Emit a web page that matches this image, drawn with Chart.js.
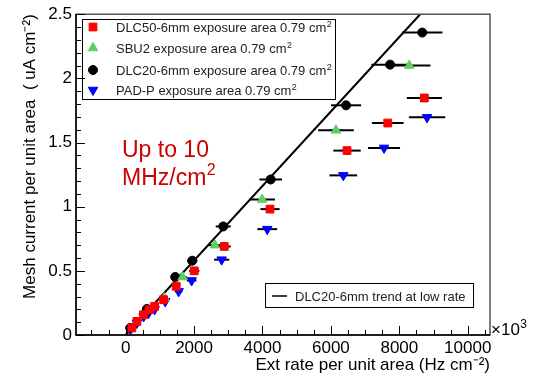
<!DOCTYPE html>
<html>
<head>
<meta charset="utf-8">
<script src="https://cdn.jsdelivr.net/npm/chart.js@4/dist/chart.umd.min.js"></script>
<style>
body { margin: 0; background: #fff; }
canvas { display: block; }
</style>
</head>
<body>
<canvas id="meshChart" width="534" height="376"></canvas>
<script>
// DLC50-6mm (red squares)
var dlc50X = [184, 330, 526, 690, 848, 1111, 1480, 2006, 2883, 4220, 6471, 7661, 8731];
var dlc50Y = [0.055, 0.106, 0.158, 0.197, 0.223, 0.275, 0.38, 0.50, 0.69, 0.981, 1.437, 1.652, 1.847];
var dlc50Err = [15, 25, 40, 50, 60, 80, 110, 150, 190, 280, 400, 463, 512];

// SBU2 (green triangles)
var sbu2X = [1129, 1667, 2611, 3990, 6149, 8290];
var sbu2Y = [0.288, 0.452, 0.70, 1.056, 1.595, 2.10];
var sbu2Err = [80, 120, 200, 375, 520, 620];

// DLC20-6mm (black circles)
var dlc20X = [135, 623, 1450, 1947, 2854, 4240, 6442, 7730, 8670];
var dlc20Y = [0.055, 0.203, 0.452, 0.579, 0.846, 1.212, 1.790, 2.107, 2.357];
var dlc20Err = [10, 45, 110, 150, 220, 330, 440, 550, 590];

// PAD-P (blue down triangles)
var padpX = [135, 330, 526, 672, 850, 1158, 1550, 1930, 2807, 4140, 6363, 7553, 8810];
var padpY = [0.041, 0.093, 0.145, 0.171, 0.20, 0.262, 0.34, 0.425, 0.587, 0.825, 1.244, 1.458, 1.696];
var padpErr = [10, 25, 40, 50, 60, 85, 110, 140, 220, 290, 404, 468, 531];

// DLC20-6mm trend at low rate
var trendX = [0, 8610];
var trendY = [0, 2.5];

var xTicks = [0, 2000, 4000, 6000, 8000, 10000];
var yTicks = [0, 0.5, 1, 1.5, 2, 2.5];

var FONT = "'Liberation Sans', Arial, sans-serif";
Chart.defaults.font.family = FONT;
Chart.defaults.color = '#000';

function pts(xs, ys, es) {
    return xs.map(function (x, i) { return { x: x, y: ys[i], xErr: es ? es[i] : 0 }; });
}

function supText(ctx, base, sup, x, y, size) {
    ctx.font = size + 'px ' + FONT;
    ctx.fillText(base, x, y);
    var w = ctx.measureText(base).width;
    ctx.font = Math.round(size * 0.68) + 'px ' + FONT;
    ctx.fillText(sup, x + w + 0.5, y - size * 0.42);
}

// error bars, axis ticks, frame, legends and notes
var extras = {
    id: 'extras',
    beforeDatasetsDraw: function (chart) {
        var ctx = chart.ctx, xs = chart.scales.x;
        ctx.save();
        ctx.strokeStyle = '#000';
        ctx.lineWidth = 2;
        chart.data.datasets.forEach(function (ds, di) {
            if (ds.type === 'line') return;
            var meta = chart.getDatasetMeta(di);
            ds.data.forEach(function (p, i) {
                if (!p.xErr) return;
                var y = meta.data[i].y;
                ctx.beginPath();
                ctx.moveTo(xs.getPixelForValue(p.x - p.xErr), y);
                ctx.lineTo(xs.getPixelForValue(p.x + p.xErr), y);
                ctx.stroke();
            });
        });
        ctx.restore();
    },
    afterDraw: function (chart) {
        var ctx = chart.ctx, a = chart.chartArea;
        var xs = chart.scales.x, ys = chart.scales.y;
        ctx.save();

        // frame
        ctx.strokeStyle = '#555';
        ctx.lineWidth = 1.5;
        ctx.strokeRect(a.left, a.top, a.right - a.left, a.bottom - a.top);
        ctx.strokeStyle = '#000';
        ctx.beginPath();
        ctx.moveTo(a.left, a.top); ctx.lineTo(a.left, a.bottom); ctx.lineTo(a.right, a.bottom);
        ctx.stroke();

        // tick marks, drawn inside like ROOT
        ctx.lineWidth = 1;
        ctx.beginPath();
        for (var v = -1000; v <= 10500; v += 500) {
            var px = Math.round(xs.getPixelForValue(v)) + 0.5;
            var len = (v % 2000 === 0) ? 9 : 5;
            ctx.moveTo(px, a.bottom); ctx.lineTo(px, a.bottom - len);
        }
        for (var k = 0; k <= 25; k++) {
            var py = Math.round(ys.getPixelForValue(k / 10)) + 0.5;
            var l2 = (k % 5 === 0) ? 9 : 5;
            ctx.moveTo(a.left, py); ctx.lineTo(a.left + l2, py);
        }
        ctx.stroke();

        // x10^3 multiplier
        ctx.fillStyle = '#000';
        ctx.textBaseline = 'alphabetic';
        ctx.textAlign = 'left';
        supText(ctx, '\u00d710', '3', a.right + 1, a.bottom, 17);

        // legend box
        ctx.lineWidth = 1;
        ctx.strokeStyle = '#000';
        ctx.strokeRect(82.5, 19.5, 253, 80);
        var rows = [
            { label: 'DLC50-6mm exposure area 0.79 cm', style: 'rect', color: '#ff0000', r: 5.5, rot: 0, y: 27 },
            { label: 'SBU2 exposure area 0.79 cm', style: 'triangle', color: '#5fcf5f', r: 5.5, rot: 0, y: 48 },
            { label: 'DLC20-6mm exposure area 0.79 cm', style: 'circle', color: '#000000', r: 4.5, rot: 0, y: 70 },
            { label: 'PAD-P exposure area 0.79 cm', style: 'triangle', color: '#0000ff', r: 5.5, rot: 180, y: 90 }
        ];
        rows.forEach(function (row) {
            ctx.fillStyle = row.color;
            ctx.strokeStyle = row.color;
            Chart.helpers.drawPoint(ctx, { pointStyle: row.style, radius: row.r, rotation: row.rot, borderWidth: 1 }, 93, row.y);
            ctx.fillStyle = '#222';
            supText(ctx, row.label, '2', 116, row.y + 5, 13);
        });

        // trend legend
        ctx.strokeStyle = '#000';
        ctx.strokeRect(265.5, 283.5, 208, 24);
        ctx.lineWidth = 1.5;
        ctx.beginPath();
        ctx.moveTo(272, 296); ctx.lineTo(287, 296);
        ctx.stroke();
        ctx.fillStyle = '#222';
        ctx.font = '13px ' + FONT;
        ctx.fillText('DLC20-6mm trend at low rate', 295, 300.5);

        // note
        ctx.fillStyle = '#cc0000';
        ctx.font = '23px ' + FONT;
        ctx.fillText('Up to 10', 122, 157);
        supText(ctx, 'MHz/cm', '2', 122, 185, 23);

        ctx.restore();
    }
};

var ctx = document.getElementById('meshChart').getContext('2d');

var meshChart = new Chart(ctx, {
    type: 'scatter',
    data: {
        datasets: [
            {
                label: 'DLC50-6mm exposure area 0.79 cm²',
                data: pts(dlc50X, dlc50Y, dlc50Err),
                pointStyle: 'rect', pointRadius: 5.5,
                backgroundColor: '#ff0000', borderColor: '#ff0000', borderWidth: 1
            },
            {
                label: 'SBU2 exposure area 0.79 cm²',
                data: pts(sbu2X, sbu2Y, sbu2Err),
                pointStyle: 'triangle', pointRadius: 5.5,
                backgroundColor: '#5fcf5f', borderColor: '#5fcf5f', borderWidth: 1
            },
            {
                label: 'DLC20-6mm exposure area 0.79 cm²',
                data: pts(dlc20X, dlc20Y, dlc20Err),
                pointStyle: 'circle', pointRadius: 4.5,
                backgroundColor: '#000000', borderColor: '#000000', borderWidth: 1
            },
            {
                label: 'PAD-P exposure area 0.79 cm²',
                data: pts(padpX, padpY, padpErr),
                pointStyle: 'triangle', pointRotation: 180, pointRadius: 5.5,
                backgroundColor: '#0000ff', borderColor: '#0000ff', borderWidth: 1
            },
            {
                type: 'line',
                label: 'DLC20-6mm trend at low rate',
                data: pts(trendX, trendY),
                borderColor: '#000', borderWidth: 2, pointRadius: 0, fill: false
            }
        ]
    },
    options: {
        responsive: false,
        animation: false,
        devicePixelRatio: 1,
        layout: { padding: { top: 14, right: 44, bottom: 0, left: 0 } },
        plugins: { legend: { display: false }, tooltip: { enabled: false } },
        scales: {
            x: {
                type: 'linear', min: -1450, max: 10650,
                afterBuildTicks: function (s) { s.ticks = xTicks.map(function (v) { return { value: v }; }); },
                afterFit: function (s) { s.height = 41; },
                grid: { display: false, drawTicks: false },
                border: { display: false },
                ticks: { font: { size: 17 }, padding: 3, maxRotation: 0, autoSkip: false, callback: function (v) { return String(v); } },
                title: { display: true, text: 'Ext rate per unit area (Hz cm\u207b\u00b2)', align: 'end', font: { size: 17 }, padding: { top: 0, bottom: 0 } }
            },
            y: {
                type: 'linear', min: 0, max: 2.5,
                afterBuildTicks: function (s) { s.ticks = yTicks.map(function (v) { return { value: v }; }); },
                afterFit: function (s) { s.width = 76; },
                grid: { display: false, drawTicks: false },
                border: { display: false },
                ticks: { font: { size: 17 }, padding: 4, callback: function (v) { return String(v); } },
                title: { display: true, text: 'Mesh current per unit area  ( uA cm\u207b\u00b2)', align: 'end', font: { size: 17 }, padding: { top: 20, bottom: 0 } }
            }
        }
    },
    plugins: [extras]
});
</script>
</body>
</html>
